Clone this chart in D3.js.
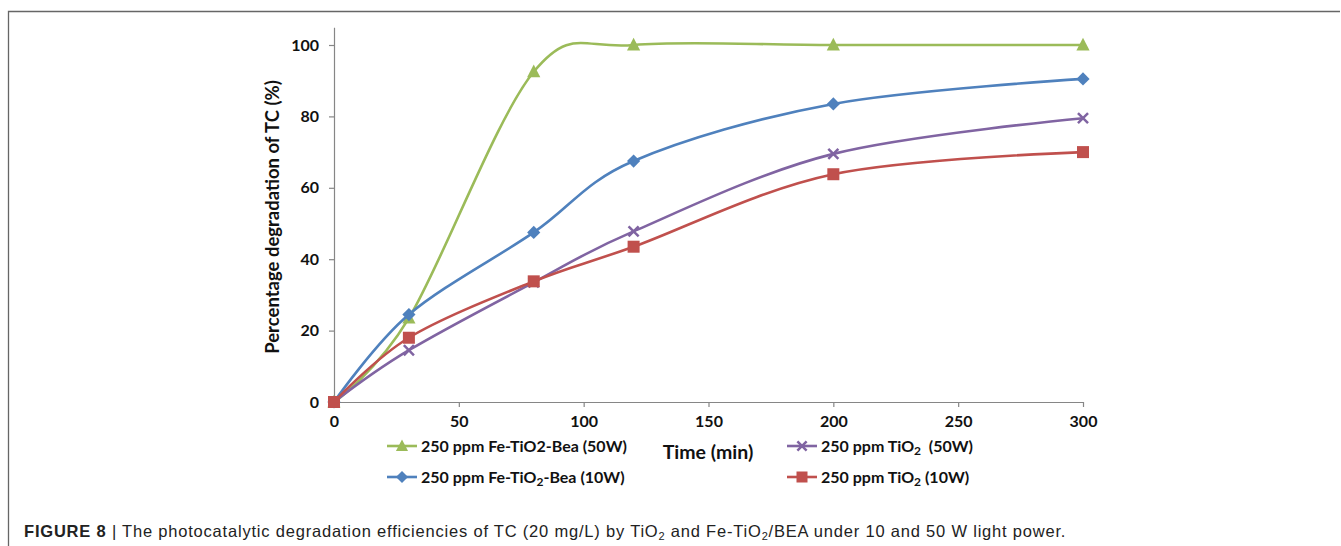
<!DOCTYPE html>
<html>
<head>
<meta charset="utf-8">
<script src="https://cdn.jsdelivr.net/npm/d3@7"></script>
<style>
  html, body { margin: 0; padding: 0; background: #fff; }
  svg { display: block; }
</style>
</head>
<body>
<svg id="chart" width="1341" height="546"></svg>
<script>
// ---- data ----
const times = [0, 30, 80, 120, 200, 300];
const feBea50 = [0, 23.5, 92.5, 100, 100, 100];
const tio2_50 = [0, 14.5, 33.5, 47.8, 69.5, 79.5];
const feBea10 = [0, 24.5, 47.5, 67.5, 83.5, 90.5];
const tio2_10 = [0, 18, 33.8, 43.5, 63.8, 70];
const xTicks = [0, 50, 100, 150, 200, 250, 300];
const yTicks = [0, 20, 40, 60, 80, 100];

const series = [
  { key: "g", values: feBea50, color: "#9BBB59", marker: "triangle" },
  { key: "p", values: tio2_50, color: "#8064A2", marker: "x" },
  { key: "b", values: feBea10, color: "#4F81BD", marker: "diamond" },
  { key: "r", values: tio2_10, color: "#C0504D", marker: "square" }
];

const svg = d3.select("#chart");
const font = "Lato, 'Open Sans', sans-serif";

// frame
svg.append("path").attr("d", "M8.5,546 L8.5,11.5 L1340,11.5")
  .attr("fill", "none").attr("stroke", "#666").attr("stroke-width", 1.3);

const x = d3.scaleLinear().domain([0, 300]).range([334, 1083]);
const y = d3.scaleLinear().domain([0, 105]).range([402, 27.15]);

const axisColor = "#868686";

const gx = svg.append("g").attr("transform", `translate(0,${y(0)})`)
  .call(d3.axisBottom(x).tickValues(xTicks).tickSize(5).tickPadding(9).tickSizeOuter(0));
const gy = svg.append("g").attr("transform", `translate(${x(0)},0)`)
  .call(d3.axisLeft(y).tickValues(yTicks).tickSize(5).tickPadding(10).tickSizeOuter(0));

[gx, gy].forEach(g => {
  g.select(".domain").attr("stroke", axisColor).attr("stroke-width", 1.2);
  g.selectAll(".tick line").attr("stroke", axisColor).attr("stroke-width", 1.2);
  g.selectAll(".tick text").attr("fill", "#111").attr("font-family", font)
    .attr("font-weight", "bold").attr("font-size", 16);
});

// axis titles
svg.append("text").attr("x", 708).attr("y", 459).attr("text-anchor", "middle")
  .attr("font-family", font).attr("font-weight", "bold").attr("font-size", 19.5)
  .attr("fill", "#111").text("Time (min)");
svg.append("text").attr("transform", "translate(279,217) rotate(-90)")
  .attr("text-anchor", "middle").attr("font-family", font).attr("font-weight", "bold")
  .attr("font-size", 18.5).attr("fill", "#111").text("Percentage degradation of TC (%)");

// lines
const line = d3.line().x(d => x(d[0])).y(d => y(d[1])).curve(d3.curveCardinal.tension(0));

function drawMarker(g, type, color, cx, cy, s) {
  if (type === "triangle") {
    g.append("path").attr("d", `M${cx},${cy - s * 0.6} L${cx + s * 0.55},${cy + s * 0.45} L${cx - s * 0.55},${cy + s * 0.45} Z`).attr("fill", color);
  } else if (type === "diamond") {
    g.append("path").attr("d", `M${cx},${cy - s * 0.55} L${cx + s * 0.55},${cy} L${cx},${cy + s * 0.55} L${cx - s * 0.55},${cy} Z`).attr("fill", color);
  } else if (type === "square") {
    g.append("rect").attr("x", cx - s / 2).attr("y", cy - s / 2).attr("width", s).attr("height", s).attr("fill", color);
  } else if (type === "x") {
    const h = s * 0.42;
    g.append("path").attr("d", `M${cx - h},${cy - h} L${cx + h},${cy + h} M${cx - h},${cy + h} L${cx + h},${cy - h}`)
      .attr("stroke", color).attr("stroke-width", 2.5).attr("fill", "none");
  }
}

const plot = svg.append("g");
series.forEach(s => {
  const pts = times.map((t, i) => [t, s.values[i]]);
  plot.append("path").attr("d", line(pts)).attr("fill", "none")
    .attr("stroke", s.color).attr("stroke-width", 2.6);
  pts.forEach(p => drawMarker(plot, s.marker, s.color, x(p[0]), y(p[1]), 12));
});

// legend
const legendItems = [
  { s: series[0], lx: 387, ly: 446, parts: [["250 ppm Fe-TiO2-Bea (50W)", false]] },
  { s: series[2], lx: 387, ly: 477, parts: [["250 ppm Fe-TiO", false], ["2", true], ["-Bea (10W)", false]] },
  { s: series[1], lx: 787, ly: 446, parts: [["250 ppm TiO", false], ["2", true], ["\u00a0 (50W)", false]] },
  { s: series[3], lx: 787, ly: 477, parts: [["250 ppm TiO", false], ["2", true], [" (10W)", false]] }
];
legendItems.forEach(it => {
  const g = svg.append("g");
  g.append("line").attr("x1", it.lx).attr("x2", it.lx + 30).attr("y1", it.ly).attr("y2", it.ly)
    .attr("stroke", it.s.color).attr("stroke-width", 2.6);
  drawMarker(g, it.s.marker, it.s.color, it.lx + 15, it.ly, 11);
  const t = g.append("text").attr("x", it.lx + 34).attr("y", it.ly + 6)
    .attr("font-family", font).attr("font-weight", "bold").attr("font-size", 16).attr("fill", "#111");
  it.parts.forEach(([txt, sub]) => {
    if (sub) {
      t.append("tspan").attr("font-size", 12).attr("dy", 3).text(txt);
    } else {
      const ts = t.append("tspan").text(txt);
      if (t.selectAll("tspan").size() > 1) ts.attr("dy", -3);
    }
  });
});

// caption
const cap = svg.append("text").attr("x", 24).attr("y", 537)
  .attr("font-family", "'Liberation Sans', Arial, sans-serif").attr("font-size", 16.5)
  .attr("letter-spacing", 0.8).attr("fill", "#222");
cap.append("tspan").attr("font-weight", "bold").text("FIGURE 8");
cap.append("tspan").text(" | The photocatalytic degradation efficiencies of TC (20 mg/L) by TiO");
cap.append("tspan").attr("font-size", 11).attr("dy", 3).text("2");
cap.append("tspan").attr("dy", -3).text(" and Fe-TiO");
cap.append("tspan").attr("font-size", 11).attr("dy", 3).text("2");
cap.append("tspan").attr("dy", -3).text("/BEA under 10 and 50 W light power.");
</script>
</body>
</html>
